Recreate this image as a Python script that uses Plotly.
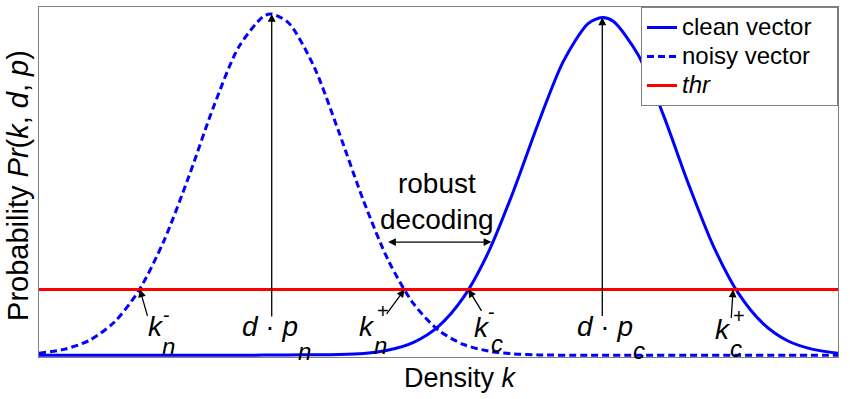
import plotly.graph_objects as go

# ---- data ----
k_noisy = [0, 25, 50, 75, 100, 125, 150, 175, 200, 225, 233, 250, 275, 300, 325, 350,
           375, 400, 425, 450, 475, 500, 550, 600, 650, 700, 750, 800]
p_noisy = [0.006, 0.017, 0.042, 0.094, 0.186, 0.328, 0.513, 0.715, 0.885, 0.974, 0.980,
           0.954, 0.831, 0.643, 0.443, 0.271, 0.148, 0.072, 0.031, 0.012, 0.004, 0.001,
           0, 0, 0, 0, 0, 0]

k_clean = [0, 50, 100, 150, 200, 250, 300, 325, 350, 375, 400, 425, 450, 475, 500, 525,
           550, 564, 575, 600, 625, 650, 675, 700, 725, 750, 775, 800]
p_clean = [0, 0, 0, 0, 0, 0.001, 0.002, 0.005, 0.015, 0.037, 0.083, 0.166, 0.296, 0.471,
           0.667, 0.844, 0.953, 0.970, 0.959, 0.862, 0.691, 0.494, 0.315, 0.179, 0.091,
           0.041, 0.017, 0.006]

k_range = [0, 800]
thr = 0.189

peak_noisy = (233, 0.980)
peak_clean = (564, 0.970)
kn_minus, kn_plus, kc_minus, kc_plus = 101, 366, 430, 695
robust_left, robust_right, robust_y = 348, 453, 0.325

series_names = ["clean vector", "noisy vector", "<i>thr</i>"]

FONT = "Liberation Sans, Arial, sans-serif"
BLUE = "#0000FF"
RED = "#FF0000"
FRAME = "#7f7f7f"

def big(s):
    return '<span style="font-size:24px">' + s + '\u00a0\u00a0\u00a0</span>'

fig = go.Figure()
fig.add_trace(go.Scatter(x=k_clean, y=p_clean, mode="lines", name=big(series_names[0]),
                         line=dict(color=BLUE, width=3, shape="spline", smoothing=0.8)))
fig.add_trace(go.Scatter(x=k_noisy, y=p_noisy, mode="lines", name=big(series_names[1]),
                         line=dict(color=BLUE, width=3, dash="7px,4px", shape="spline", smoothing=0.8)))
fig.add_trace(go.Scatter(x=k_range, y=[thr, thr], mode="lines", name=big(series_names[2]),
                         line=dict(color=RED, width=3)))

ann = []

def arrow(x, y, ax, ay, both=False):
    ann.append(dict(x=x, y=y, xref="x", yref="y", ax=ax, ay=ay, text="", showarrow=True,
                    arrowhead=2, arrowsize=1.2, arrowwidth=1.3, arrowcolor="black",
                    standoff=0, startstandoff=0,
                    startarrowhead=2, startarrowsize=1.2,
                    arrowside="end+start" if both else "end"))

def label(x, y, text, size=28):
    ann.append(dict(x=x, y=y, xref="x", yref="y", text=text, showarrow=False,
                    xanchor="center", yanchor="middle",
                    font=dict(family=FONT, size=size, color="black")))

# peak arrows
arrow(peak_noisy[0], peak_noisy[1], 0, 304)
arrow(peak_clean[0], peak_clean[1], 0, 300)
# threshold crossing arrows
arrow(kn_minus, thr, 8, 28)
arrow(kn_plus, thr, -19, 26)
arrow(kc_minus, thr, 14, 23)
arrow(kc_plus, thr, -2, 30)
# robust decoding double arrow
arrow(robust_right, robust_y, -(robust_right - robust_left) * 799 / 800, 0, both=True)

# labels
label(231, 0.083, "<i>d</i> · <i>p</i>")
label(266, 0.011, "<i>n</i>", 24)
label(567, 0.083, "<i>d</i> · <i>p</i>")
label(601, 0.014, "<i>c</i>", 24)

label(117, 0.083, "<i>k</i>")
label(128, 0.116, "-", 20)
label(130, 0.024, "<i>n</i>", 24)

label(328, 0.083, "<i>k</i>")
label(344, 0.127, "+", 20)
label(342, 0.027, "<i>n</i>", 24)

label(444, 0.080, "<i>k</i>")
label(453, 0.124, "-", 20)
label(459, 0.033, "<i>c</i>", 24)

label(685, 0.074, "<i>k</i>")
label(701, 0.113, "+", 20)
label(698, 0.019, "<i>c</i>", 24)

ann.append(dict(x=398, y=0.442, xref="x", yref="y", text="robust<br>decoding", showarrow=False,
                xanchor="center", yanchor="middle",
                font=dict(family=FONT, size=28, color="black")))

# axis titles
ann.append(dict(x=0.527, y=-0.06, xref="paper", yref="paper", text="Density <i>k</i>",
                showarrow=False, xanchor="center", yanchor="middle",
                font=dict(family=FONT, size=27, color="black")))
ann.append(dict(x=-0.027, y=0.49, xref="paper", yref="paper",
                text="Probability <i>Pr</i>(<i>k</i>, <i>d</i>, <i>p</i>)",
                showarrow=False, xanchor="center", yanchor="middle", textangle=-90,
                font=dict(family=FONT, size=29, color="black")))

axis_common = dict(showline=True, mirror=True, linecolor=FRAME, linewidth=1,
                   showticklabels=False, ticks="", showgrid=False, zeroline=False,
                   fixedrange=True)

fig.update_layout(
    width=850, height=399,
    margin=dict(l=39, r=12, t=7, b=42, pad=0),
    paper_bgcolor="white", plot_bgcolor="white",
    font=dict(family=FONT, color="black"),
    xaxis=dict(range=k_range, **axis_common),
    yaxis=dict(range=[-0.005, 1.0], **axis_common),
    showlegend=True,
    legend=dict(x=1, y=1, xanchor="right", yanchor="top", bgcolor="white",
                bordercolor=FRAME, borderwidth=1, font=dict(family=FONT, size=20, color="black"),
                tracegroupgap=0, itemwidth=30),
    annotations=ann,
)

fig.write_html("out.html")
